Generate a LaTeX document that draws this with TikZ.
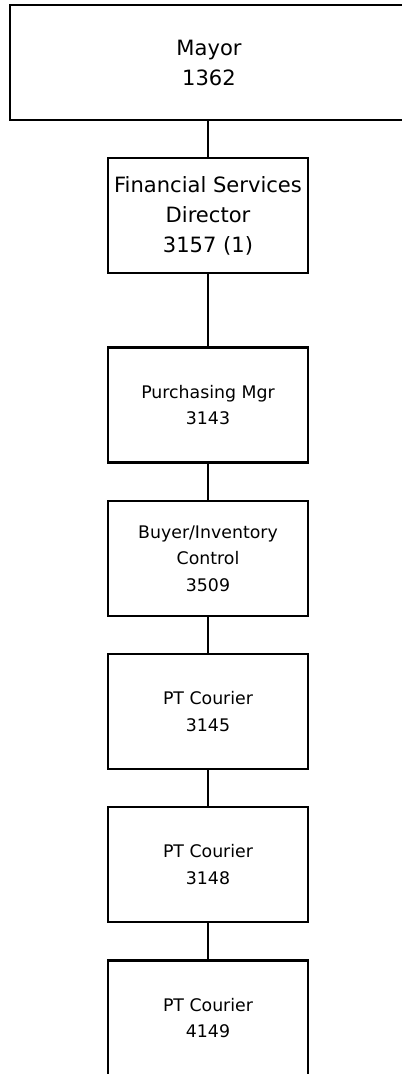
\documentclass[tikz,border=0pt]{standalone}
\usepackage{fontspec}
\setmainfont{DejaVu Sans}
\begin{document}
\begin{tikzpicture}[x=0.75pt,y=-0.75pt,
  box/.style={draw=black,line width=1.9pt,rectangle,inner sep=0pt,align=center,
    minimum width=150pt,minimum height=86.5pt},
  bigtxt/.style={font=\fontsize{15.8}{22.5}\selectfont},
  smalltxt/.style={font=\fontsize{13}{19.8}\selectfont},
  link/.style={draw=black,line width=1.9pt}]
\useasboundingbox (0,0) rectangle (401,1074);
\node[box,bigtxt,minimum width=298.5pt] (mayor) at (209,62.5) {Mayor\\1362};
\node[box,bigtxt] (fin) at (208,215.5) {Financial Services\\Director\\3157 (1)};
\node[box,smalltxt] (pur) at (208,405) {Purchasing Mgr\\3143};
\node[box,smalltxt] (buy) at (208,558.5) {Buyer/Inventory\\Control\\3509};
\node[box,smalltxt] (c1) at (208,711.5) {PT Courier\\3145};
\node[box,smalltxt] (c2) at (208,864.5) {PT Courier\\3148};
\node[box,smalltxt] (c3) at (208,1018) {PT Courier\\4149};
\draw[link] (208,120) -- (fin);
\draw[link] (fin) -- (pur);
\draw[link] (pur) -- (buy);
\draw[link] (buy) -- (c1);
\draw[link] (c1) -- (c2);
\draw[link] (c2) -- (c3);
\end{tikzpicture}
\end{document}
